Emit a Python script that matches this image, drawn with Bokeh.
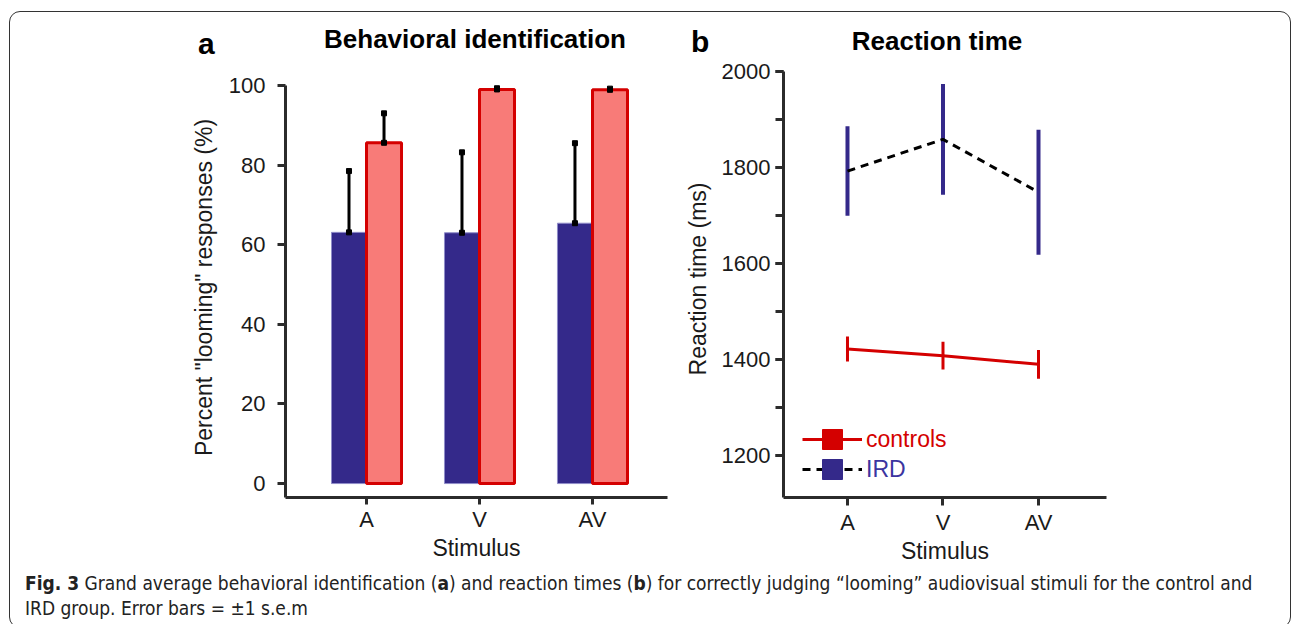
from bokeh.plotting import figure
from bokeh.models import Range1d, FixedTicker, Legend, LegendItem, Div
from bokeh.layouts import row, column
from bokeh.embed import file_html
from bokeh.resources import INLINE

# ---------------- data ----------------
stimuli = ["A", "V", "AV"]
# panel a: percent "looming" responses
ird_pct = [63.1, 63.0, 65.4]
ird_pct_sem = [15.4, 20.2, 20.1]
ctrl_pct = [85.6, 99.0, 98.9]
ctrl_pct_sem = [7.4, 0.3, 0.3]
pct_ticks = [0, 20, 40, 60, 80, 100]
# panel b: reaction time (ms)
ird_rt = [1792, 1858, 1748]
ird_rt_sem = [93, 115, 130]
ctrl_rt = [1422, 1408, 1390]
ctrl_rt_sem = [26, 29, 30]
rt_ticks = [1200, 1400, 1600, 1800, 2000]
rt_minor = [1200, 1300, 1400, 1500, 1600, 1700, 1800, 1900, 2000]

# ---------------- styles ----------------
FONT = "Liberation Sans"
RED = "#D40000"
SALMON = "#F87B78"
BLUE = "#34298A"
AXIS = "#2b2b2b"
TXT = "#1a1a1a"

xs = list(range(len(stimuli)))
tick_map = {i: s for i, s in enumerate(stimuli)}


def style_axes(p, xlabel, ylabel):
    for ax in (p.xaxis[0], p.yaxis[0]):
        ax.axis_line_width = 3
        ax.axis_line_color = AXIS
        ax.major_tick_line_width = 3
        ax.major_tick_line_color = AXIS
        ax.minor_tick_line_width = 3
        ax.minor_tick_line_color = AXIS
        ax.major_tick_in = 0
        ax.major_tick_out = 8
        ax.minor_tick_in = 0
        ax.minor_tick_out = 8
        ax.major_label_text_font = FONT
        ax.major_label_text_font_size = "22px"
        ax.major_label_text_color = TXT
        ax.axis_label_text_font = FONT
        ax.axis_label_text_font_size = "23px"
        ax.axis_label_text_font_style = "normal"
        ax.axis_label_text_color = TXT
    p.xaxis.axis_label = xlabel
    p.yaxis.axis_label = ylabel
    p.xgrid.visible = False
    p.ygrid.visible = False
    p.outline_line_color = None


def header(text, size, line_h, width, left, align="left"):
    return Div(text=text, width=width, height=48, margin=(0, 0, 0, left),
               styles={"font-family": FONT, "font-size": f"{size}px",
                       "font-weight": "bold", "line-height": f"{line_h}px",
                       "color": "#000000", "text-align": align,
                       "white-space": "nowrap"})


# ---------------- panel a ----------------
p1 = figure(width=670, height=510, x_range=Range1d(-0.717, 2.664),
            y_range=Range1d(-3.5, 102), output_backend="svg",
            toolbar_location=None, min_border_left=275, min_border_right=13,
            min_border_top=17, min_border_bottom=73, frame_align=False)
bw = 0.31
x_ird = [x - bw / 2 for x in xs]
x_ctl = [x + bw / 2 for x in xs]
ird_hi = [m + s for m, s in zip(ird_pct, ird_pct_sem)]
ctl_hi = [m + s for m, s in zip(ctrl_pct, ctrl_pct_sem)]
p1.vbar(x=x_ird, top=ird_pct, bottom=0, width=bw, fill_color=BLUE,
        line_color="#8f8cc8", line_width=1)
p1.segment(x0=x_ird, y0=ird_pct, x1=x_ird, y1=ird_hi,
           line_color="black", line_width=3)
p1.scatter(x=x_ird * 2, y=ird_pct + ird_hi, marker="square", size=5,
           fill_color="black", line_color="black")
p1.vbar(x=x_ctl, top=ctrl_pct, bottom=0, width=bw, fill_color=SALMON,
        line_color=RED, line_width=3)
p1.segment(x0=x_ctl, y0=ctrl_pct, x1=x_ctl, y1=ctl_hi,
           line_color="black", line_width=3)
p1.scatter(x=x_ctl * 2, y=ctrl_pct + ctl_hi, marker="square", size=5,
           fill_color="black", line_color="black")
style_axes(p1, "Stimulus", 'Percent "looming" responses (%)')
p1.xaxis.ticker = FixedTicker(ticks=xs)
p1.xaxis.major_label_overrides = tick_map
p1.xaxis.major_tick_out = 7
p1.xaxis.major_label_standoff = 2
p1.xaxis.axis_label_standoff = 0
p1.yaxis.ticker = FixedTicker(ticks=pct_ticks)
p1.yaxis.bounds = (-3.5, 100)
p1.yaxis.major_label_standoff = 12
p1.yaxis.axis_label_standoff = 9

# ---------------- panel b ----------------
p2 = figure(width=610, height=510, x_range=Range1d(-0.670, 2.712),
            y_range=Range1d(1113, 2022), output_backend="svg",
            toolbar_location=None, min_border_left=103, min_border_right=184,
            min_border_top=0, min_border_bottom=73, frame_align=False)
# IRD
p2.segment(x0=xs, x1=xs, y0=[m - s for m, s in zip(ird_rt, ird_rt_sem)],
           y1=[m + s for m, s in zip(ird_rt, ird_rt_sem)],
           line_color=BLUE, line_width=4)
ird_line = p2.line(x=xs, y=ird_rt, line_color="black", line_width=3,
                   line_dash="8 6")
ird_sq = p2.scatter(x=xs, y=ird_rt, marker="square", size=0,
                    fill_color=BLUE, line_color=BLUE)
# controls
p2.segment(x0=xs, x1=xs, y0=[m - s for m, s in zip(ctrl_rt, ctrl_rt_sem)],
           y1=[m + s for m, s in zip(ctrl_rt, ctrl_rt_sem)],
           line_color=RED, line_width=3)
ctl_line = p2.line(x=xs, y=ctrl_rt, line_color=RED, line_width=3)
ctl_sq = p2.scatter(x=xs, y=ctrl_rt, marker="square", size=0,
                    fill_color=RED, line_color=RED)
style_axes(p2, "Stimulus", "Reaction time (ms)")
p2.xaxis.ticker = FixedTicker(ticks=xs)
p2.xaxis.major_label_overrides = tick_map
p2.xaxis.major_label_standoff = 4
p2.xaxis.axis_label_standoff = 0
p2.yaxis.ticker = FixedTicker(ticks=rt_ticks, minor_ticks=rt_minor)
p2.yaxis.bounds = (1113, 2000)
p2.yaxis.major_label_standoff = 5
p2.yaxis.axis_label_standoff = 8

for label, rends, col, yloc in (("controls", [ctl_line, ctl_sq], RED, 33),
                               ("IRD", [ird_line, ird_sq], "#3B35A0", 3)):
    lg = Legend(items=[LegendItem(label=label, renderers=rends)],
                location=(19, yloc), glyph_width=60, glyph_height=50,
                padding=0, margin=0, spacing=0, label_standoff=4,
                border_line_alpha=0, background_fill_alpha=0,
                label_text_font=FONT, label_text_font_size="23px",
                label_text_color=col)
    p2.add_layout(lg, "center")

# ---------------- headers ----------------
heads = row(
    header("a", 30, 64, 30, 188),
    header("Behavioral identification", 26, 55, 382, 56, "center"),
    header("b", 30, 60, 30, 25),
    header("Reaction time", 26, 59, 310, 61, "center"),
)

# ---------------- caption ----------------
B = '<span style="font-weight:bold">{}</span>'
N = '<span>{}</span>'
cap_text = (B.format("Fig. 3") + N.format("&nbsp;Grand average behavioral identification (")
            + B.format("a") + N.format(") and reaction times (") + B.format("b")
            + N.format(") for correctly judging \u201clooming\u201d audiovisual stimuli "
                       "for the control and") + "<br>"
            + N.format("IRD group. Error bars = \u00b11 s.e.m"))
cap = Div(text=cap_text, width=1240, height=56, margin=(1, 0, 0, 15),
          styles={"font-family": "'Liberation Sans Narrow', 'DejaVu Sans Condensed', sans-serif",
                  "font-size": "19px", "line-height": "25px", "color": "#222222",
                  "white-space": "nowrap"})

layout = column(heads, row(p1, p2), cap, margin=(11, 0, 0, 9),
                styles={"border": "1.5px solid #333333", "border-radius": "11px"})

open("out.html", "w").write(file_html(layout, INLINE))
